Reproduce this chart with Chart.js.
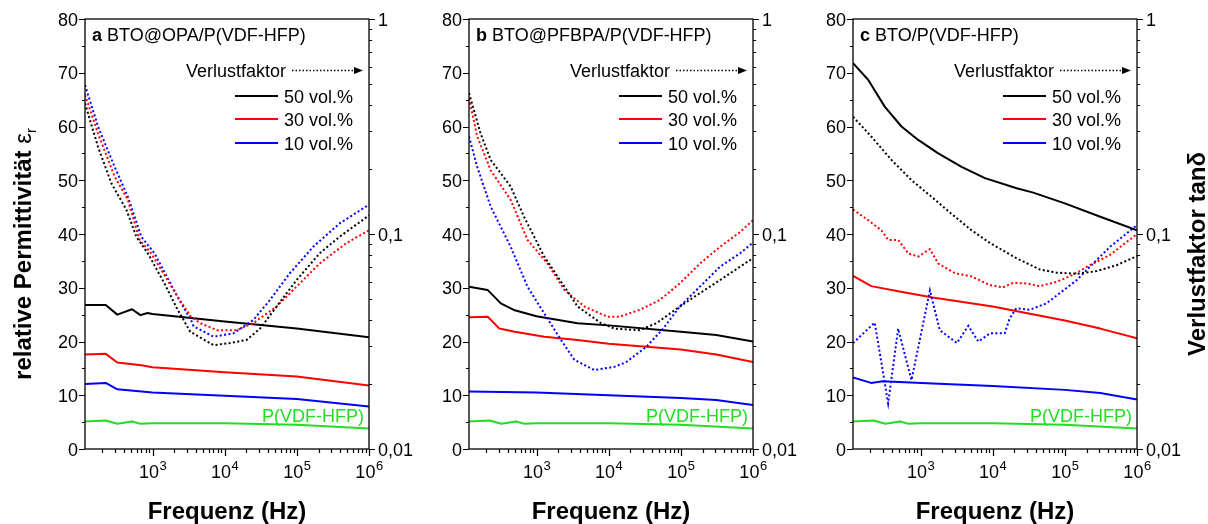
<!DOCTYPE html>
<html>
<head>
<meta charset="utf-8">
<script src="https://cdn.jsdelivr.net/npm/chart.js@4.4.1/dist/chart.umd.min.js"></script>
<style>
  html, body { margin: 0; padding: 0; background: #fff; }
  #wrap { position: relative; width: 1208px; height: 524px; overflow: hidden; }
  canvas { position: absolute; top: 0; }
</style>
</head>
<body>
<div id="wrap">
  <canvas id="chartA" width="420" height="524" style="left:0px"></canvas>
  <canvas id="chartB" width="385" height="524" style="left:420px"></canvas>
  <canvas id="chartC" width="403" height="524" style="left:805px"></canvas>
</div>
<script>
// Achsen / Beschriftung
const FREQ_MIN = 116;
const FREQ_MAX = 1e6;
const FONT = '"Liberation Sans", Arial, sans-serif';

const epsTicks = [0, 10, 20, 30, 40, 50, 60, 70, 80];
const tanTickVals = [0.01, 0.1, 1];
const tanTickLabels = ["0,01", "0,1", "1"];
const freqTickExp = [3, 4, 5, 6];

const panelLetters = ["a", "b", "c"];
const panelNames = ["BTO@OPA/P(VDF-HFP)", "BTO@PFBPA/P(VDF-HFP)", "BTO/P(VDF-HFP)"];
const volLabels = ["50 vol.%", "30 vol.%", "10 vol.%"];
const volColors = ["#000000", "#ff0000", "#0000ff"];
const polymerLabel = "P(VDF-HFP)";
const polymerColor = "#22dd22";
const lossLabel = "Verlustfaktor";
const xTitle = "Frequenz (Hz)";
const yTitle = "relative Permittivität ";
const yTitleRight = "Verlustfaktor tanδ";

// reines Polymer (in allen drei Bildern gleich) [Hz, eps_r]
const epsPolymer = [[116, 5.1], [225, 5.3], [325, 4.7], [520, 5.1], [680, 4.7], [1000, 4.8], [1e4, 4.8], [1e5, 4.5], [1e6, 3.8]];

// a  BTO@OPA  -- Permittivität [Hz, eps_r]
const epsA50 = [[116, 26.8], [225, 26.8], [325, 25.0], [520, 26.0], [680, 24.9], [850, 25.3], [1000, 25.1], [1e4, 23.7], [1e5, 22.4], [1e6, 20.8]];
const epsA30 = [[116, 17.6], [225, 17.7], [325, 16.1], [700, 15.6], [1000, 15.2], [1e4, 14.3], [1e5, 13.5], [1e6, 11.8]];
const epsA10 = [[116, 12.1], [225, 12.3], [325, 11.1], [1000, 10.5], [1e4, 9.9], [1e5, 9.3], [1e6, 7.9]];
// a  -- Verlustfaktor [Hz, tan d]
const tanA50 = [[116, 0.405], [176, 0.254], [269, 0.172], [434, 0.130], [596, 0.0972], [861, 0.0813], [1465, 0.0589], [2230, 0.0444], [3340, 0.0351], [7010, 0.0304], [11900, 0.0311], [20200, 0.0322], [30900, 0.0363], [52500, 0.0460], [99000, 0.0610], [207000, 0.0813], [392000, 0.0972], [1e6, 0.122]];
const tanA30 = [[116, 0.444], [176, 0.293], [299, 0.185], [456, 0.144], [662, 0.0939], [960, 0.0813], [2230, 0.0510], [3420, 0.0412], [4590, 0.0385], [7800, 0.0357], [14700, 0.0357], [24900, 0.0385], [52500, 0.0460], [99000, 0.0569], [207000, 0.0729], [485000, 0.0907], [1e6, 0.104]];
const tanA10 = [[116, 0.493], [176, 0.316], [299, 0.205], [456, 0.149], [699, 0.0972], [1065, 0.0813], [2350, 0.0493], [3420, 0.0398], [3710, 0.0372], [7010, 0.0333], [13200, 0.0345], [24900, 0.0398], [42400, 0.0493], [80000, 0.0657], [168000, 0.0871], [392000, 0.112], [1e6, 0.137]];

// b  BTO@PFBPA
const epsB50 = [[116, 30.2], [210, 29.6], [320, 27.1], [500, 25.8], [1000, 24.7], [3700, 23.4], [1e4, 23.0], [1e5, 21.8], [3.1e5, 21.2], [1e6, 20.0]];
const epsB30 = [[116, 24.5], [211, 24.6], [306, 22.4], [500, 21.8], [1280, 20.9], [3700, 20.3], [1e4, 19.6], [1e5, 18.5], [3.1e5, 17.6], [1e6, 16.2]];
const epsB10 = [[116, 10.7], [1000, 10.5], [1e4, 10.0], [1e5, 9.5], [3.1e5, 9.1], [1e6, 8.2]];
const tanB50 = [[116, 0.452], [168, 0.293], [232, 0.221], [439, 0.166], [674, 0.120], [1280, 0.0785], [2430, 0.0569], [3710, 0.0460], [7810, 0.0385], [12000, 0.0363], [27000, 0.0357], [46000, 0.0385], [96800, 0.0460], [184000, 0.0531], [348000, 0.0610], [660000, 0.0704], [1e6, 0.0772]];
const tanB30 = [[116, 0.427], [151, 0.284], [232, 0.198], [439, 0.144], [750, 0.0939], [1420, 0.0729], [2430, 0.0550], [4600, 0.0460], [9680, 0.0412], [14200, 0.0412], [27000, 0.0444], [51100, 0.0493], [96800, 0.0589], [184000, 0.0729], [348000, 0.0871], [660000, 0.102], [1e6, 0.116]];
const tanB10 = [[116, 0.284], [151, 0.205], [232, 0.134], [439, 0.0871], [750, 0.0569], [1280, 0.0427], [2180, 0.0322], [3340, 0.0260], [6320, 0.0233], [12000, 0.0241], [17600, 0.0254], [33400, 0.0299], [56800, 0.0363], [96800, 0.0460], [184000, 0.0569], [348000, 0.0704], [660000, 0.0813], [1e6, 0.0912]];

// c  BTO (ohne Modifizierung)
const epsC50 = [[116, 71.8], [188, 68.7], [319, 63.7], [545, 60.0], [929, 57.5], [1760, 55.0], [3710, 52.5], [7810, 50.4], [21500, 48.5], [36500, 47.7], [1e5, 45.7], [3.1e5, 43.2], [1e6, 40.7]];
const epsC30 = [[116, 32.2], [208, 30.3], [510, 29.3], [1480, 28.2], [1e4, 26.5], [1e5, 23.9], [3.1e5, 22.4], [1e6, 20.6]];
const epsC10 = [[116, 13.3], [207, 12.3], [300, 12.6], [1480, 12.2], [1e4, 11.7], [1e5, 11.0], [3.1e5, 10.4], [1e6, 9.2]];
const tanC50 = [[116, 0.351], [208, 0.284], [396, 0.221], [750, 0.178], [1420, 0.149], [2690, 0.124], [5110, 0.104], [9000, 0.0912], [21300, 0.0772], [45000, 0.0684], [76700, 0.0661], [146000, 0.0653], [275000, 0.0672], [522000, 0.0716], [1e6, 0.0790]];
const tanC30 = [[116, 0.130], [188, 0.116], [287, 0.104], [356, 0.0939], [490, 0.0939], [674, 0.0813], [929, 0.0785], [1350, 0.0851], [1760, 0.0729], [2990, 0.0657], [5110, 0.0635], [9080, 0.0579], [13900, 0.0565], [19100, 0.0592], [29400, 0.0589], [45000, 0.0572], [76700, 0.0599], [130000, 0.0646], [222000, 0.0716], [422000, 0.0799], [1e6, 0.100]];
const tanC10 = [[116, 0.0311], [232, 0.0387], [356, 0.0163], [490, 0.0363], [750, 0.0209], [1350, 0.0546], [1850, 0.0357], [3200, 0.0311], [4600, 0.0374], [6320, 0.0316], [9180, 0.0345], [14700, 0.0345], [17200, 0.0405], [21300, 0.0452], [32700, 0.0444], [55700, 0.0476], [85300, 0.0531], [146000, 0.0610], [222000, 0.0704], [422000, 0.0871], [1e6, 0.110]];

function toXY(arr) {
  return arr.map(p => ({ x: p[0], y: p[1] }));
}

function solid(arr, color) {
  return { data: toXY(arr), yAxisID: "y", borderColor: color, borderWidth: 2, pointRadius: 0, fill: false, tension: 0, borderJoinStyle: "round" };
}

function dotted(arr, color) {
  return { data: toXY(arr), yAxisID: "y2", borderColor: color, borderWidth: 2, borderDash: [2, 2.4], pointRadius: 0, fill: false, tension: 0 };
}

function buildSets(eps, tan) {
  let sets = [];
  tan.forEach((t, i) => sets.push(dotted(t, volColors[i])));
  eps.forEach((e, i) => sets.push(solid(e, volColors[i])));
  sets.push(solid(epsPolymer, polymerColor));
  return sets;
}

// Rahmen, Ticks, Texte
const framePlugin = {
  id: "frame",
  afterDraw(chart) {
    const ctx = chart.ctx;
    const a = chart.chartArea;
    const sx = chart.scales.x, sy = chart.scales.y, sr = chart.scales.y2;
    const idx = chart.options.plugins.frame.panel;

    ctx.save();
    ctx.strokeStyle = "#000";
    ctx.fillStyle = "#000";
    ctx.lineWidth = 1.3;
    ctx.strokeRect(a.left, a.top, a.right - a.left, a.bottom - a.top);

    // tick marks
    ctx.lineWidth = 1.2;
    ctx.beginPath();
    for (let v = 0; v <= 80; v += 5) {
      const y = Math.round(sy.getPixelForValue(v)) + 0.5;
      const len = v % 10 === 0 ? 6 : 3;
      ctx.moveTo(a.left, y); ctx.lineTo(a.left - len, y);
    }
    for (let e = -2; e <= 0; e++) {
      for (let k = 1; k <= 9; k++) {
        const v = k * Math.pow(10, e);
        if (v > 1.0001) break;
        const y = Math.round(sr.getPixelForValue(v)) + 0.5;
        const len = k === 1 ? 6 : 3;
        ctx.moveTo(a.right, y); ctx.lineTo(a.right + len, y);
      }
    }
    for (let e = 2; e <= 6; e++) {
      for (let k = 1; k <= 9; k++) {
        const v = k * Math.pow(10, e);
        if (v < FREQ_MIN || v > FREQ_MAX * 1.0001) continue;
        const x = Math.round(sx.getPixelForValue(v)) + 0.5;
        const len = k === 1 ? 7 : 4;
        ctx.moveTo(x, a.bottom); ctx.lineTo(x, a.bottom + len);
      }
    }
    ctx.stroke();

    // tick labels
    ctx.font = "18px " + FONT;
    ctx.textBaseline = "alphabetic";
    ctx.textAlign = "right";
    epsTicks.forEach(v => ctx.fillText(String(v), a.left - 7, sy.getPixelForValue(v) + 6.5));
    ctx.textAlign = "left";
    tanTickVals.forEach((v, i) => ctx.fillText(tanTickLabels[i], a.right + 9, sr.getPixelForValue(v) + 6.5));
    freqTickExp.forEach(n => {
      const x = sx.getPixelForValue(Math.pow(10, n));
      ctx.font = "18px " + FONT;
      const w1 = ctx.measureText("10").width;
      ctx.font = "13px " + FONT;
      const w2 = ctx.measureText(String(n)).width;
      const x0 = x - (w1 + w2) / 2;
      ctx.font = "18px " + FONT;
      ctx.fillText("10", x0, a.bottom + 29);
      ctx.font = "13px " + FONT;
      ctx.fillText(String(n), x0 + w1 + 0.5, a.bottom + 21);
    });

    // x axis title
    ctx.font = "bold 24px " + FONT;
    ctx.textAlign = "center";
    ctx.fillText(xTitle, (a.left + a.right) / 2, 519);

    // panel title
    ctx.textAlign = "left";
    ctx.font = "bold 18px " + FONT;
    ctx.fillText(panelLetters[idx], a.left + 7, 41);
    const wl = ctx.measureText(panelLetters[idx] + " ").width;
    ctx.font = "18px " + FONT;
    ctx.fillText(panelNames[idx], a.left + 7 + wl, 41);

    // legend
    ctx.textAlign = "right";
    ctx.fillText(lossLabel, a.right - 83, 76.5);
    ctx.lineWidth = 1.5;
    ctx.setLineDash([1.5, 2]);
    ctx.beginPath(); ctx.moveTo(a.right - 77, 70.5); ctx.lineTo(a.right - 14, 70.5); ctx.stroke();
    ctx.setLineDash([]);
    ctx.beginPath();
    ctx.moveTo(a.right - 6, 70.5); ctx.lineTo(a.right - 15, 67); ctx.lineTo(a.right - 15, 74);
    ctx.closePath(); ctx.fill();

    const rows = [96, 119, 143];
    ctx.textAlign = "left";
    ctx.lineWidth = 2;
    volLabels.forEach((lab, i) => {
      ctx.strokeStyle = volColors[i];
      ctx.beginPath(); ctx.moveTo(a.right - 134, rows[i]); ctx.lineTo(a.right - 91, rows[i]); ctx.stroke();
      ctx.fillStyle = "#000";
      ctx.fillText(lab, a.right - 85, rows[i] + 6.5);
    });

    ctx.fillStyle = polymerColor;
    ctx.textAlign = "right";
    ctx.fillText(polymerLabel, a.right - 5, 422);

    // y titles
    ctx.fillStyle = "#000";
    if (idx === 0) {
      ctx.save();
      ctx.translate(31, 254);
      ctx.rotate(-Math.PI / 2);
      ctx.font = "bold 24px " + FONT;
      const w1 = ctx.measureText(yTitle).width;
      ctx.font = "24px " + FONT;
      const w2 = ctx.measureText("ε").width;
      ctx.font = "15px " + FONT;
      const w3 = ctx.measureText("r").width;
      let x0 = -(w1 + w2 + w3) / 2;
      ctx.textAlign = "left";
      ctx.font = "bold 24px " + FONT;
      ctx.fillText(yTitle, x0, 0);
      ctx.font = "24px " + FONT;
      ctx.fillText("ε", x0 + w1, 0);
      ctx.font = "15px " + FONT;
      ctx.fillText("r", x0 + w1 + w2, 5);
      ctx.restore();
    }
    if (idx === 2) {
      ctx.save();
      ctx.translate(chart.width - 3, 254);
      ctx.rotate(-Math.PI / 2);
      ctx.font = "bold 24px " + FONT;
      ctx.textAlign = "center";
      ctx.fillText(yTitleRight, 0, 0);
      ctx.restore();
    }
    ctx.restore();
  }
};

function makeChart(id, idx, sets, pad) {
  return new Chart(document.getElementById(id), {
    type: "line",
    data: { datasets: sets },
    options: {
      responsive: false,
      animation: false,
      events: [],
      layout: { padding: pad },
      plugins: {
        legend: { display: false },
        tooltip: { enabled: false },
        frame: { panel: idx }
      },
      scales: {
        x: { type: "logarithmic", min: FREQ_MIN, max: FREQ_MAX, display: false },
        y: { type: "linear", position: "left", min: 0, max: 80, display: false },
        y2: { type: "logarithmic", position: "right", min: 0.01, max: 1, display: false }
      }
    },
    plugins: [framePlugin]
  });
}

makeChart("chartA", 0, buildSets([epsA50, epsA30, epsA10], [tanA50, tanA30, tanA10]), { left: 85, right: 51, top: 19, bottom: 75 });
makeChart("chartB", 1, buildSets([epsB50, epsB30, epsB10], [tanB50, tanB30, tanB10]), { left: 49, right: 52, top: 19, bottom: 75 });
makeChart("chartC", 2, buildSets([epsC50, epsC30, epsC10], [tanC50, tanC30, tanC10]), { left: 48, right: 71, top: 19, bottom: 75 });
</script>
</body>
</html>
